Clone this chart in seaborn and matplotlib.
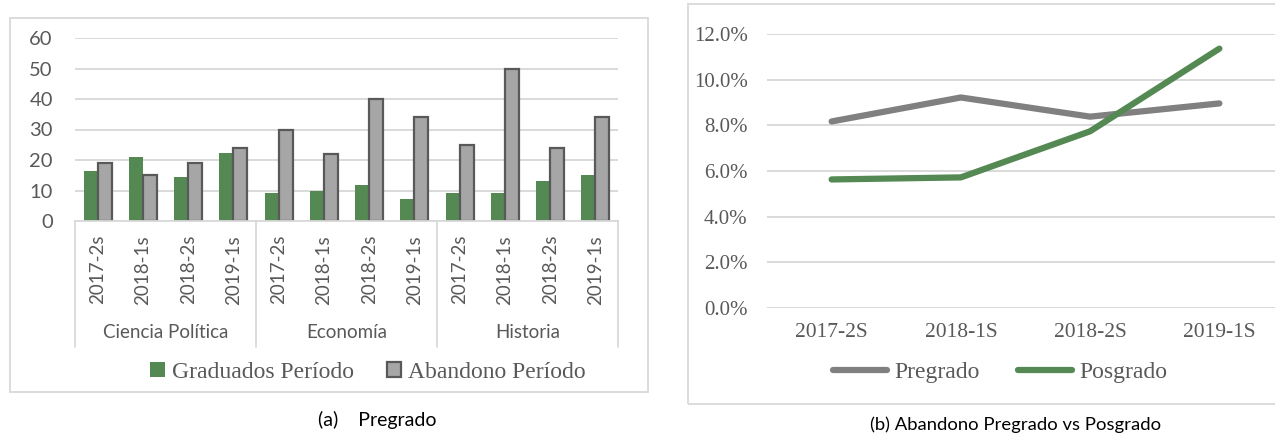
import matplotlib
matplotlib.use("Agg")
import matplotlib.pyplot as plt
import matplotlib.patches as mpatches
import matplotlib.transforms as mtransforms
from matplotlib.ticker import PercentFormatter, MultipleLocator
import seaborn as sns
import pandas as pd

# ---------------- data ----------------
programas = ["Ciencia Política", "Economía", "Historia"]
periodos_a = ["2017-2s", "2018-1s", "2018-2s", "2019-1s"]
graduados = [16.4, 21.0, 14.4, 22.3, 9.2, 9.8, 11.8, 7.2, 9.2, 9.2, 13.1, 15.1]
abandono = [19, 15, 19, 24, 30, 22, 40, 34, 25, 50, 24, 34]
series_a = ["Graduados Período", "Abandono Período"]

periodos_b = ["2017-2S", "2018-1S", "2018-2S", "2019-1S"]
pregrado = [0.0817, 0.0922, 0.0838, 0.0896]
posgrado = [0.0563, 0.0572, 0.0774, 0.1136]
series_b = ["Pregrado", "Posgrado"]

caption_a = "(a)    Pregrado"
caption_b = "(b) Abandono Pregrado vs Posgrado"

# ---------------- style ----------------
GREEN = "#548954"
GRAY_BAR = "#a6a6a6"
GRAY_EDGE = "#595959"
GRAY_LINE = "#808080"
GRID = "#d9d9d9"
TXT = "#595959"
SANS = ["Lato", "DejaVu Sans"]
SERIF = ["Liberation Serif", "DejaVu Serif"]

W, H = 1275, 443
sns.set_theme(style="white")
plt.rcParams["font.family"] = SANS

fig = plt.figure(figsize=(W / 100, H / 100), dpi=100)


def fx(px):
    return px / W


def fy(py):
    return 1 - py / H


# panel frames
fig.add_artist(mpatches.Rectangle((fx(10), fy(392)), fx(648) - fx(10), fy(18) - fy(392),
                                  transform=fig.transFigure, fill=False,
                                  edgecolor=GRID, lw=1.3))
fig.add_artist(mpatches.Rectangle((fx(688), fy(404)), fx(1300) - fx(688), fy(4) - fy(404),
                                  transform=fig.transFigure, fill=False,
                                  edgecolor=GRID, lw=1.3))

# ---------------- left chart ----------------
slots = [f"{p}|{t}" for p in programas for t in periodos_a]
df_a = pd.DataFrame({
    "slot": slots * 2,
    "serie": [series_a[0]] * len(slots) + [series_a[1]] * len(slots),
    "valor": graduados + abandono,
})

axa = fig.add_axes([fx(75), fy(221), fx(618) - fx(75), fy(38) - fy(221)])
sns.barplot(data=df_a, x="slot", y="valor", hue="serie", order=slots,
            hue_order=series_a, palette=[GREEN, GRAY_BAR], width=0.62,
            saturation=1, ax=axa, legend=False)
for p in axa.containers[0]:
    p.set_linewidth(0)
for p in axa.containers[1]:
    p.set_edgecolor(GRAY_EDGE)
    p.set_linewidth(1.6)

axa.set_ylim(0, 60)
axa.set_xlim(-0.5, len(slots) - 0.5)
axa.yaxis.set_major_locator(MultipleLocator(10))
axa.grid(axis="y", color=GRID, lw=1.4)
axa.set_axisbelow(True)
for s in ["top", "left", "right"]:
    axa.spines[s].set_visible(False)
axa.spines["bottom"].set_color(GRID)
axa.spines["bottom"].set_linewidth(1.3)
axa.set_xlabel("")
axa.set_ylabel("")
axa.set_xticks(range(len(slots)))
axa.set_xticklabels([s.split("|")[1] for s in slots], rotation=90)
axa.tick_params(axis="x", length=0, pad=10, labelsize=13.5, labelcolor=TXT)
axa.tick_params(axis="y", length=0, pad=16, labelsize=14.5, labelcolor=TXT)

trans = mtransforms.blended_transform_factory(axa.transData, axa.transAxes)
for b in [-0.5, 3.5, 7.5, 11.5]:
    axa.plot([b, b], [0, -0.689], transform=trans, color=GRID, lw=1.3, clip_on=False)
for i, prog in enumerate(programas):
    axa.text(i * 4 + 1.5, -0.612, prog, transform=trans, ha="center", va="center",
             fontsize=13.5, color=TXT)

fig.legend([axa.containers[0][0], axa.containers[1][0]], series_a,
           loc="center", bbox_to_anchor=(fx(368), fy(372)), ncol=2, frameon=False,
           prop={"family": SERIF, "size": 17}, labelcolor=TXT,
           handlelength=0.6, handleheight=0.6, handletextpad=0.3, columnspacing=1.4,
           borderaxespad=0, borderpad=0)

fig.text(fx(318), fy(420), caption_a, ha="left", va="center", fontsize=14, color="black")

# ---------------- right chart ----------------
df_b = pd.DataFrame({
    "periodo": periodos_b * 2,
    "serie": [series_b[0]] * len(periodos_b) + [series_b[1]] * len(periodos_b),
    "tasa": pregrado + posgrado,
})

axb = fig.add_axes([fx(767), fy(308), fx(1284) - fx(767), fy(34) - fy(308)])
sns.lineplot(data=df_b, x="periodo", y="tasa", hue="serie", hue_order=series_b,
             palette=[GRAY_LINE, GREEN], linewidth=4.5, sort=False, ax=axb, legend=False)
for ln in axb.get_lines():
    ln.set_solid_capstyle("round")
    ln.set_solid_joinstyle("round")

axb.set_ylim(0, 0.12)
axb.set_xlim(-0.5, len(periodos_b) - 0.5)
axb.yaxis.set_major_locator(MultipleLocator(0.02))
axb.yaxis.set_major_formatter(PercentFormatter(xmax=1, decimals=1))
axb.grid(axis="y", color=GRID, lw=1.4)
axb.set_axisbelow(True)
for s in axb.spines.values():
    s.set_visible(False)
axb.set_xlabel("")
axb.set_ylabel("")
axb.tick_params(axis="x", length=0, pad=11, labelsize=15.5, labelcolor=TXT)
axb.tick_params(axis="y", length=0, pad=14, labelsize=15, labelcolor=TXT)
for lab in axb.get_xticklabels() + axb.get_yticklabels():
    lab.set_family(SERIF)

fig.legend(axb.get_lines()[:2], series_b, loc="center",
           bbox_to_anchor=(fx(1000), fy(372)), ncol=2, frameon=False,
           prop={"family": SERIF, "size": 17}, labelcolor=TXT,
           handlelength=2.3, handletextpad=0.3, columnspacing=1.6,
           borderaxespad=0, borderpad=0)

fig.text(fx(870), fy(425), caption_b, ha="left", va="center", fontsize=13.3, color="black")

fig.savefig("out.png", dpi=100)
